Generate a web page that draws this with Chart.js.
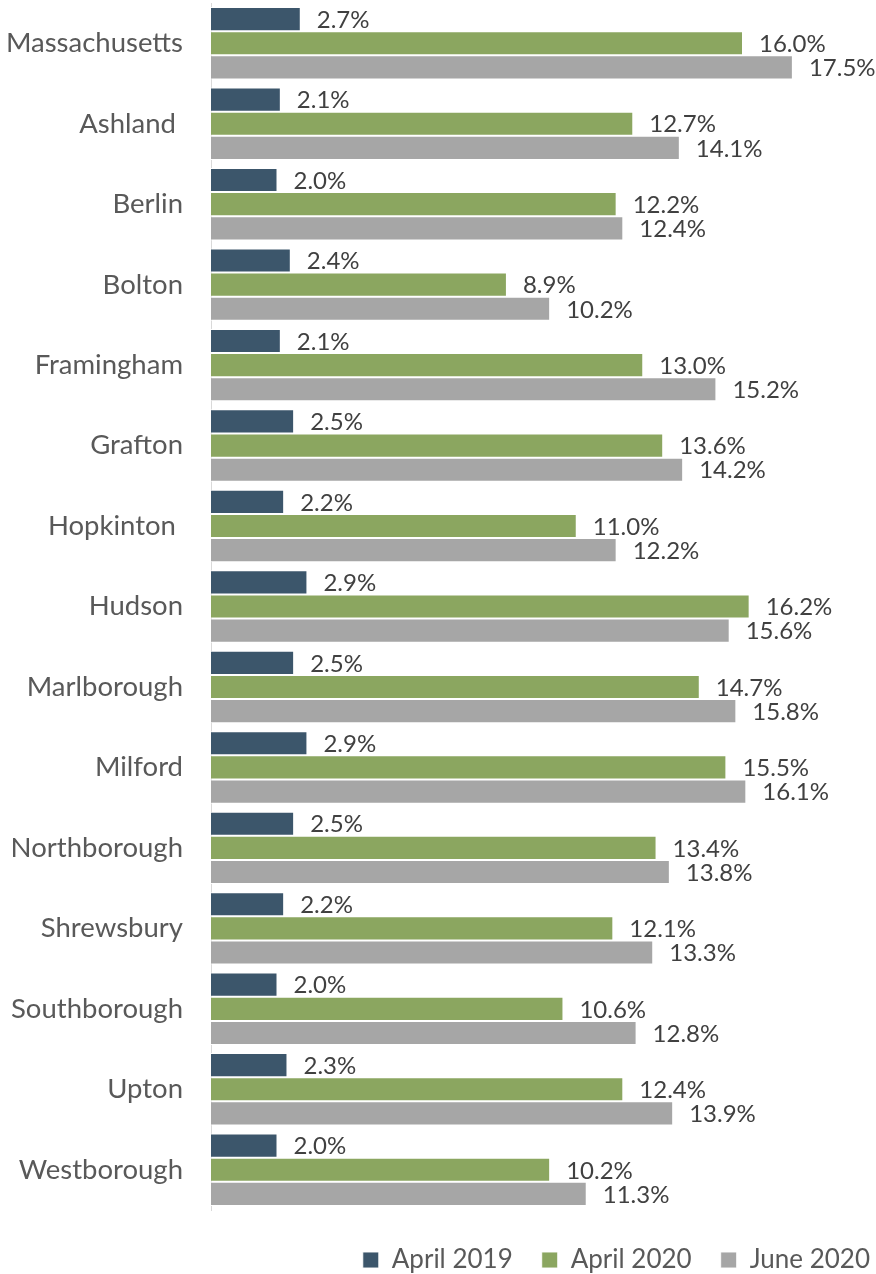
<!DOCTYPE html>
<html><head><meta charset="utf-8">
<script src="https://cdn.jsdelivr.net/npm/chart.js@4/dist/chart.umd.min.js"></script>
<style>html,body{margin:0;padding:0;background:#fff;overflow:hidden}
#wrap{position:relative;width:876px;height:1274px}</style>
</head><body><div id="wrap"><canvas id="c"></canvas></div>
<script>
// Unemployment rate by town
const towns = ['Massachusetts','Ashland ','Berlin','Bolton','Framingham','Grafton','Hopkinton ','Hudson','Marlborough','Milford','Northborough','Shrewsbury','Southborough','Upton','Westborough'];
const april2019 = [2.7,2.1,2.0,2.4,2.1,2.5,2.2,2.9,2.5,2.9,2.5,2.2,2.0,2.3,2.0];
const april2020 = [16.0,12.7,12.2,8.9,13.0,13.6,11.0,16.2,14.7,15.5,13.4,12.1,10.6,12.4,10.2];
const june2020 = [17.5,14.1,12.4,10.2,15.2,14.2,12.2,15.6,15.8,16.1,13.8,13.3,12.8,13.9,11.3];
const seriesNames = ['April 2019','April 2020','June 2020'];
const seriesColors = ['#3C566B','#8BA660','#A6A6A6'];

const FONT = 'Lato';
const LEGEND_PAD = 29;

// percent labels just past the end of each bar
const valueLabels = {
  id: 'valueLabels',
  afterDatasetsDraw(chart) {
    const ctx = chart.ctx;
    ctx.save();
    ctx.font = '24px ' + FONT;
    ctx.fillStyle = '#404040';
    ctx.textBaseline = 'middle';
    ctx.textAlign = 'left';
    chart.data.datasets.forEach((ds, i) => {
      chart.getDatasetMeta(i).data.forEach((bar, j) => {
        ctx.fillText(ds.data[j].toFixed(1) + '%', bar.x + 16, bar.y + 1);
      });
    });
    ctx.restore();
  }
};

// keep the legend row close to the right edge (drop most of the trailing item gap)
const legendFlushRight = {
  id: 'legendFlushRight',
  afterLayout(chart) {
    const lg = chart.legend;
    if (!lg) return;
    const shift = LEGEND_PAD - 6;
    lg.left += shift;
    lg.right += shift;
  }
};

new Chart(document.getElementById('c'), {
  type: 'bar',
  data: {
    labels: towns,
    datasets: [april2019, april2020, june2020].map((d, i) => ({
      label: seriesNames[i],
      data: d,
      backgroundColor: seriesColors[i],
      borderColor: 'rgba(255,255,255,0.9)',
      borderWidth: 1,
      categoryPercentage: 0.9,
      barPercentage: 1.0
    }))
  },
  options: {
    indexAxis: 'y',
    responsive: true,
    maintainAspectRatio: false,
    animation: false,
    layout: { padding: { top: 3, right: 0, bottom: -9, left: 0 } },
    scales: {
      x: {
        min: 0, max: 20,
        grid: { display: false },
        border: { display: false },
        ticks: { display: false },
        afterFit(scale) { scale.height = 8; scale.paddingLeft = 0; scale.paddingRight = 0; }
      },
      y: {
        grid: { display: false, tickLength: 28 },
        border: { color: '#D9D9D9', width: 1 },
        ticks: { color: '#595959', font: { family: FONT, size: 27.5 }, padding: 0 },
        afterFit(scale) { scale.width = 211; scale.paddingTop = 0; scale.paddingBottom = 0; }
      }
    },
    plugins: {
      tooltip: { enabled: false },
      legend: {
        position: 'bottom',
        align: 'end',
        labels: {
          boxWidth: 16, boxHeight: 16,
          color: '#595959',
          font: { family: FONT, size: 26 },
          padding: LEGEND_PAD
        }
      }
    }
  },
  plugins: [valueLabels, legendFlushRight]
});
</script></body></html>
